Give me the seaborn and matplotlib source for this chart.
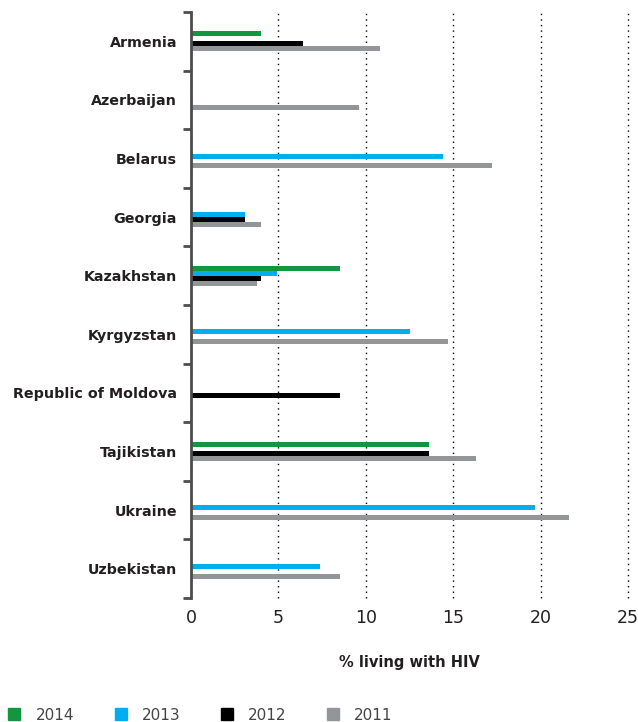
import numpy as np
import pandas as pd
import matplotlib
matplotlib.use('Agg')
import matplotlib.pyplot as plt
from matplotlib.lines import Line2D
import seaborn as sns

# Datos (% de personas viviendo con VIH)
paises = ['Armenia', 'Azerbaijan', 'Belarus', 'Georgia', 'Kazakhstan',
          'Kyrgyzstan', 'Republic of Moldova', 'Tajikistan', 'Ukraine', 'Uzbekistan']
anios = ['2014', '2013', '2012', '2011']

v2014 = [4.0, np.nan, np.nan, np.nan, 8.5, np.nan, np.nan, 13.6, np.nan, np.nan]
v2013 = [np.nan, np.nan, 14.4, 3.1, 4.9, 12.5, np.nan, np.nan, 19.7, 7.4]
v2012 = [6.4, np.nan, np.nan, 3.1, 4.0, np.nan, 8.5, 13.6, np.nan, np.nan]
v2011 = [10.8, 9.6, 17.2, 4.0, 3.8, 14.7, np.nan, 16.3, 21.6, 8.5]

colores = ['#12963f', '#00aeef', '#000000', '#939598']

filas = []
for anio, valores in zip(anios, [v2014, v2013, v2012, v2011]):
    for pais, v in zip(paises, valores):
        filas.append({'pais': pais, 'anio': anio, 'valor': v})
df = pd.DataFrame(filas)

sns.set_style('white')
plt.rcParams['font.family'] = ['DejaVu Sans']

fig = plt.figure(figsize=(6.38, 7.22), dpi=100)
ax = fig.add_axes([191/638, 1 - 598/722, (628 - 191)/638, (598 - 12)/722])

sns.barplot(data=df, y='pais', x='valor', hue='anio', order=paises,
            hue_order=anios, palette=colores, orient='h', width=0.34,
            dodge=True, errorbar=None, saturation=1, legend=False,
            linewidth=0, ax=ax)

ax.set_xlim(0, 25)
ax.set_ylim(len(paises) - 0.5, -0.5)
ax.set_xticks([0, 5, 10, 15, 20, 25])
ax.tick_params(axis='x', length=0, labelsize=12.5, colors='#231f20', pad=8)
ax.xaxis.grid(True, linestyle=(0, (1, 3)), color='black', lw=1)
for linea in ax.get_xgridlines():
    linea.set_clip_on(False)
ax.set_axisbelow(True)

# Etiquetas de países sin marca; marcas pequeñas en los límites de cada grupo
ax.tick_params(axis='y', which='major', length=0, pad=10, labelsize=10.3, colors='#231f20')
for lab in ax.get_yticklabels():
    lab.set_fontweight('bold')
ax.set_yticks(np.arange(-0.5, len(paises)), minor=True)
ax.tick_params(axis='y', which='minor', length=6, width=2, color='#4d4d4d', left=True)

for lado in ['top', 'right', 'bottom']:
    ax.spines[lado].set_visible(False)
ax.spines['left'].set_color('#4d4d4d')
ax.spines['left'].set_linewidth(2)

ax.set_ylabel('')
ax.set_xlabel('% living with HIV', fontsize=10.5, fontweight='bold',
              color='#231f20', labelpad=20)

handles = [Line2D([0], [0], marker='s', linestyle='none', markersize=9,
                  markerfacecolor=c, markeredgecolor=c) for c in colores]
fig.legend(handles, anios, loc='lower left', bbox_to_anchor=(-0.023, -0.02),
           ncol=4, frameon=False, fontsize=11, handletextpad=0.38,
           columnspacing=2.05, labelcolor='#444444')

fig.savefig('out.png', dpi=100)
